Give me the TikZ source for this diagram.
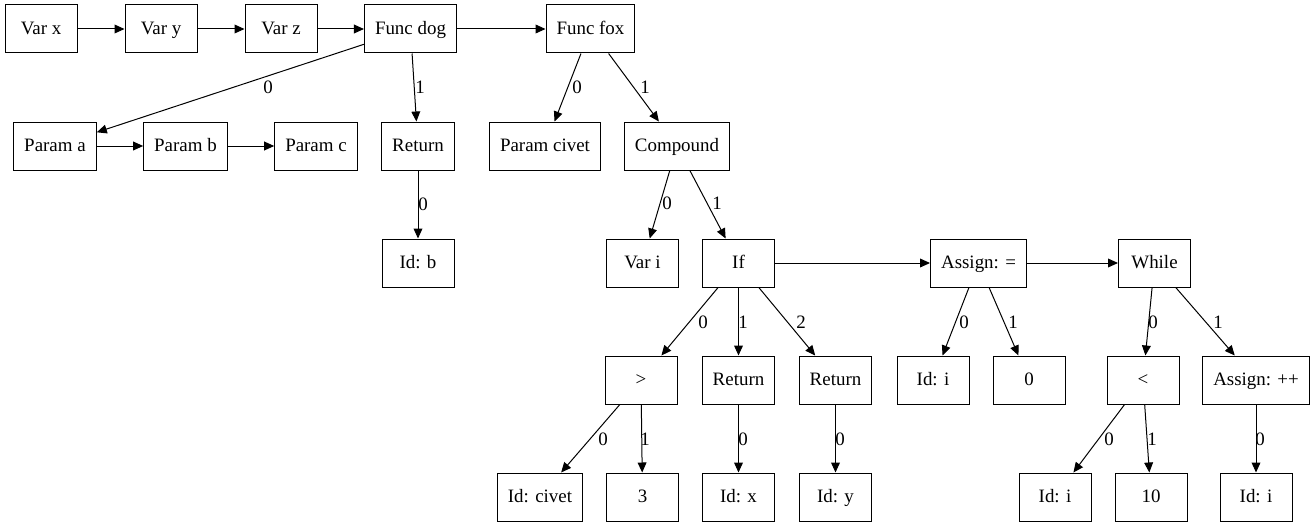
\documentclass[tikz,border=0pt]{standalone}
\usepackage{fontspec}
\setmainfont{Liberation Serif}
\usetikzlibrary{arrows.meta}
\begin{document}
\begin{tikzpicture}[x=0.75pt,y=-0.75pt,
  box/.style={draw, line width=0.75pt, rectangle, minimum width=54pt, minimum height=36pt, inner xsep=7.92pt, inner ysep=3pt, text height=9.5pt, text depth=1.5pt, font=\fontsize{14.2}{16}\selectfont},
  arr/.style={draw, line width=0.75pt, -{Triangle[length=7.5pt,width=6.6pt]}},
  lbl/.style={inner sep=0pt, font=\fontsize{14.2}{16}\selectfont}]
\useasboundingbox (0,0) rectangle (1313,528);
% row 1
\node[box] (vx) at (41,29) {Var x};
\node[box] (vy) at (161,29) {Var y};
\node[box] (vz) at (281,29) {Var z};
\node[box] (fdog) at (410.5,29) {Func dog};
\node[box] (ffox) at (590.5,29) {Func fox};
% row 2
\node[box] (pa) at (55,146) {Param a};
\node[box] (pb) at (185.5,146) {Param b};
\node[box] (pc) at (316,146) {Param c};
\node[box] (ret1) at (418,146) {Return};
\node[box] (pcivet) at (545,146) {Param civet};
\node[box] (comp) at (677,146) {Compound};
% row 3
\node[box] (idb) at (418,263) {Id: b};
\node[box] (vari) at (642.5,263) {Var i};
\node[box] (ifn) at (738.5,263) {If};
\node[box] (asg) at (978.5,263) {Assign: =};
\node[box] (whl) at (1154.5,263) {While};
% row 4
\node[box] (gt) at (641,380) {>};
\node[box] (ret2) at (738.5,380) {Return};
\node[box] (ret3) at (835.5,380) {Return};
\node[box] (idi1) at (933,380) {Id: i};
\node[box] (zero) at (1029,380) {0};
\node[box] (lt) at (1143,380) {<};
\node[box] (asgpp) at (1256,380) {Assign: ++};
% row 5
\node[box] (idcivet) at (540,497) {Id: civet};
\node[box] (three) at (642.5,497) {3};
\node[box] (idx) at (738.5,497) {Id: x};
\node[box] (idy) at (835.5,497) {Id: y};
\node[box] (idi2) at (1055,497) {Id: i};
\node[box] (ten) at (1151,497) {10};
\node[box] (idi3) at (1256,497) {Id: i};
% sequence edges
\draw[arr] (vx) -- (vy);
\draw[arr] (vy) -- (vz);
\draw[arr] (vz) -- (fdog);
\draw[arr] (fdog) -- (ffox);
\draw[arr] (pa) -- (pb);
\draw[arr] (pb) -- (pc);
\draw[arr] (ifn) -- (asg);
\draw[arr] (asg) -- (whl);
% child edges
\draw[arr] (fdog) -- (pa) node[lbl, at={(268,87)}] {0};
\draw[arr] (fdog) -- (ret1) node[lbl, at={(420,87)}] {1};
\draw[arr] (ffox) -- (pcivet) node[lbl, at={(577,87)}] {0};
\draw[arr] (ffox) -- (comp) node[lbl, at={(645,87)}] {1};
\draw[arr] (ret1) -- (idb) node[lbl, at={(423,204)}] {0};
\draw[arr] (comp) -- (vari) node[lbl, at={(667,203)}] {0};
\draw[arr] (comp) -- (ifn) node[lbl, at={(717,203)}] {1};
\draw[arr] (ifn) -- (gt) node[lbl, at={(703,322)}] {0};
\draw[arr] (ifn) -- (ret2) node[lbl, at={(743,322)}] {1};
\draw[arr] (ifn) -- (ret3) node[lbl, at={(801,322)}] {2};
\draw[arr] (asg) -- (idi1) node[lbl, at={(964,322)}] {0};
\draw[arr] (asg) -- (zero) node[lbl, at={(1013,322)}] {1};
\draw[arr] (whl) -- (lt) node[lbl, at={(1153,322)}] {0};
\draw[arr] (whl) -- (asgpp) node[lbl, at={(1218,322)}] {1};
\draw[arr] (gt) -- (idcivet) node[lbl, at={(603,439)}] {0};
\draw[arr] (gt) -- (three) node[lbl, at={(645,439)}] {1};
\draw[arr] (ret2) -- (idx) node[lbl, at={(743,439)}] {0};
\draw[arr] (ret3) -- (idy) node[lbl, at={(840,439)}] {0};
\draw[arr] (lt) -- (idi2) node[lbl, at={(1109,439)}] {0};
\draw[arr] (lt) -- (ten) node[lbl, at={(1152,439)}] {1};
\draw[arr] (asgpp) -- (idi3) node[lbl, at={(1260,439)}] {0};
\end{tikzpicture}
\end{document}
